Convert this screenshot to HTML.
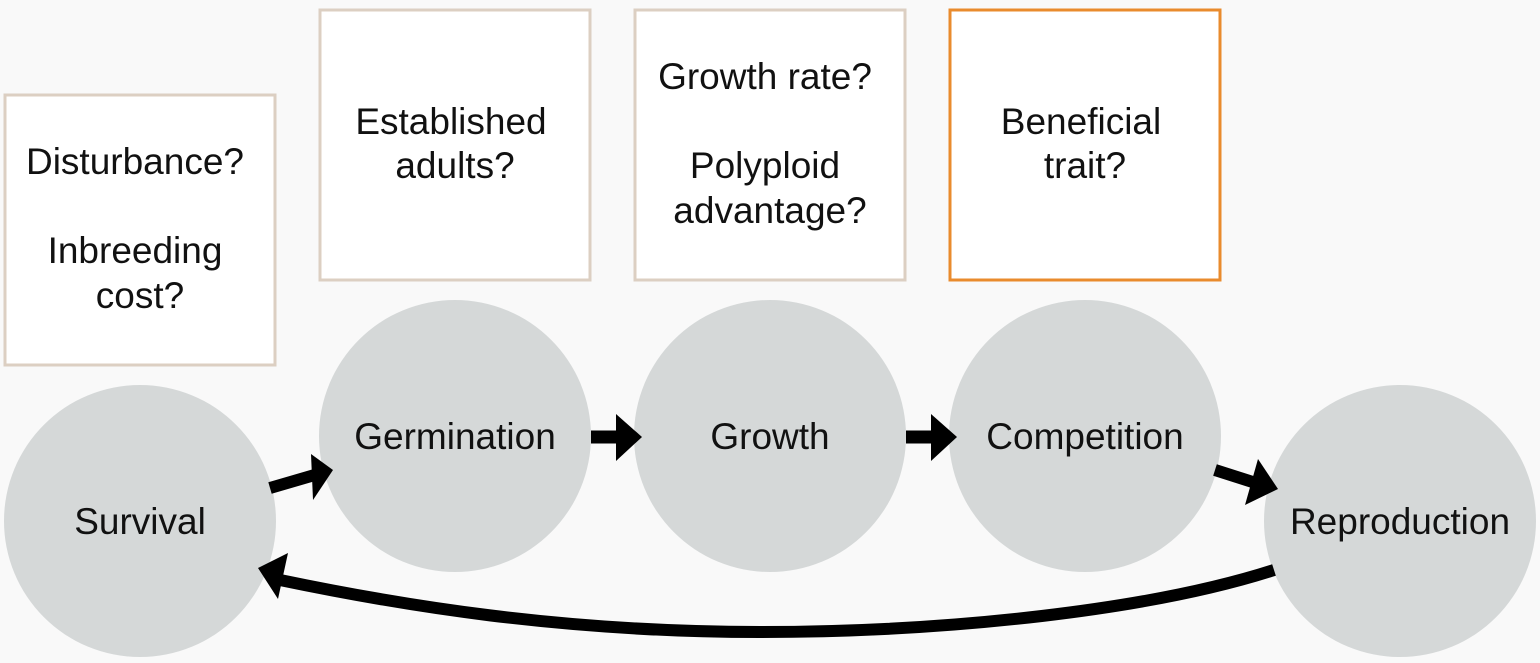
<!DOCTYPE html>
<html><head><meta charset="utf-8"><style>
html,body{margin:0;padding:0;background:#f9f9f9}
svg{display:block}
text{font-family:"Liberation Sans",Arial,sans-serif;font-size:37px;fill:#111;text-anchor:middle}
</style></head><body>
<svg width="1540" height="663" viewBox="0 0 1540 663">
<rect width="1540" height="663" fill="#f9f9f9"/>
<g fill="#d5d8d8">
<circle cx="140" cy="521" r="136"/>
<circle cx="455" cy="436" r="136"/>
<circle cx="770" cy="436" r="136"/>
<circle cx="1085" cy="436" r="136"/>
<circle cx="1400" cy="521" r="136"/>
</g>
<g fill="#fff" stroke-width="3">
<rect x="5" y="95" width="270" height="270" stroke="#dccfc2"/>
<rect x="320" y="10" width="270" height="270" stroke="#dccfc2"/>
<rect x="635" y="10" width="270" height="270" stroke="#dccfc2"/>
<rect x="950" y="10" width="270" height="270" stroke="#e98b2d"/>
</g>
<text x="135" y="174">Disturbance?</text>
<text x="135" y="263">Inbreeding</text>
<text x="140" y="308">cost?</text>
<text x="451" y="134">Established</text>
<text x="455" y="178">adults?</text>
<text x="765" y="89">Growth rate?</text>
<text x="765" y="178">Polyploid</text>
<text x="770" y="223">advantage?</text>
<text x="1081" y="134">Beneficial</text>
<text x="1085" y="178">trait?</text>
<text x="140" y="534">Survival</text>
<text x="455" y="449">Germination</text>
<text x="770" y="449">Growth</text>
<text x="1085" y="449">Competition</text>
<text x="1400" y="534">Reproduction</text>
<g fill="#000" stroke="#000">
<line x1="270" y1="488" x2="318" y2="474" stroke-width="12"/>
<polygon points="333,470 311,454 313,500" stroke="none"/>
<line x1="591" y1="437" x2="618" y2="437" stroke-width="13"/>
<polygon points="642,437 616,414 616,461" stroke="none"/>
<line x1="906" y1="437" x2="933" y2="437" stroke-width="13"/>
<polygon points="957,437 931,414 931,461" stroke="none"/>
<line x1="1215" y1="470" x2="1262" y2="485" stroke-width="12"/>
<polygon points="1278,489 1258,459 1245,505" stroke="none"/>
<path d="M1274,570 C1150,610 950,632 760,632 C560,632 400,605 280,580" fill="none" stroke-width="12"/>
<polygon points="258,568 288,553 278,599" stroke="none"/>
</g>
</svg>
</body></html>
